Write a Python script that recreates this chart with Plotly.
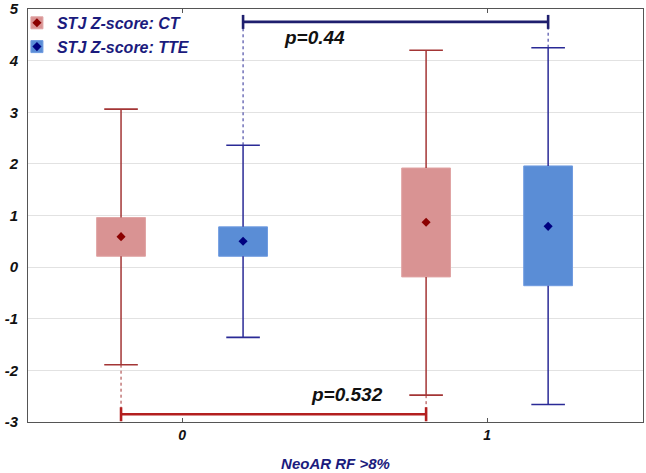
import plotly.graph_objects as go

# ---------------- data ----------------
categories = [0, 1]
tick_labels = ["0", "1"]
y_ticks = [-3, -2, -1, 0, 1, 2, 3, 4, 5]
y_tick_labels = ["-3", "-2", "-1", "0", "1", "2", "3", "4", "5"]
series_names = ["STJ Z-score: CT", "STJ Z-score: TTE"]

ct_q1 = [0.21, -0.19]
ct_q3 = [0.96, 1.92]
ct_mean = [0.59, 0.87]
ct_low = [-1.89, -2.48]
ct_high = [3.06, 4.20]

tte_q1 = [0.21, -0.36]
tte_q3 = [0.78, 1.96]
tte_mean = [0.50, 0.79]
tte_low = [-1.36, -2.66]
tte_high = [2.36, 4.25]

p_labels = ["p=0.532", "p=0.44"]
bracket_levels = [-2.85, 4.75]

# ---------------- style ----------------
FONT = "Liberation Sans, Arial, sans-serif"
NAVY_TXT = "#1b1b7d"
OFFSET = 0.2
BOX_W = 0.16

styles = [
    dict(fill="#d99393", edge="#e0a4a4", line="#a33535", mean="#8b0000", off=-OFFSET),
    dict(fill="#5a8dd6", edge="#6f9be0", line="#2a2a96", mean="#00007f", off=OFFSET),
]
series = [
    dict(q1=ct_q1, q3=ct_q3, mean=ct_mean, low=ct_low, high=ct_high),
    dict(q1=tte_q1, q3=tte_q3, mean=tte_mean, low=tte_low, high=tte_high),
]

fig = go.Figure()

for name, s, st in zip(series_names, series, styles):
    xs = [c + st["off"] for c in categories]
    # boxes
    fig.add_trace(go.Bar(
        x=xs, base=s["q1"], y=[b - a for a, b in zip(s["q1"], s["q3"])],
        width=BOX_W, marker=dict(color=st["fill"], line=dict(color=st["edge"], width=1)),
        name=name, legend="legend", hoverinfo="skip",
    ))
    # whiskers
    wx, wy = [], []
    for x, q1, q3, lo, hi in zip(xs, s["q1"], s["q3"], s["low"], s["high"]):
        wx += [x, x, None, x, x, None]
        wy += [q3, hi, None, q1, lo, None]
    fig.add_trace(go.Scatter(x=wx, y=wy, mode="lines",
                             line=dict(color=st["line"], width=1.5),
                             showlegend=False, hoverinfo="skip"))
    # caps
    fig.add_trace(go.Scatter(x=xs + xs, y=s["high"] + s["low"], mode="markers",
                             marker=dict(symbol="line-ew", size=24,
                                         line=dict(color=st["line"], width=1.6)),
                             showlegend=False, hoverinfo="skip"))

# significance brackets (CT at bottom, TTE at top)
bracket_cols = ["#b31f1f", "#1f1f6e"]
text_pos = [(0.54, -2.46), (0.435, 4.45)]
for i, (s, st) in enumerate(zip(series, styles)):
    xs = [c + st["off"] for c in categories]
    level = bracket_levels[i]
    ends = s["low"] if i == 0 else s["high"]
    # dotted connectors
    fig.add_trace(go.Scatter(
        x=[xs[0], xs[0], None, xs[1], xs[1]],
        y=[ends[0], level, None, ends[1], level],
        mode="lines", line=dict(color=st["line"], width=1, dash="dot"),
        showlegend=False, hoverinfo="skip"))
    fig.add_trace(go.Scatter(
        x=xs, y=[level, level], mode="lines+markers",
        line=dict(color=bracket_cols[i], width=2.6),
        marker=dict(symbol="line-ns", size=10,
                    line=dict(color=bracket_cols[i], width=2.6)),
        showlegend=False, hoverinfo="skip"))
    fig.add_annotation(x=text_pos[i][0], y=text_pos[i][1], text=p_labels[i],
                       showarrow=False, xanchor="center", yanchor="middle",
                       font=dict(family=FONT, size=19, color="#111111",
                                 weight="bold", style="italic"))

# means (drawn last, and used as the diamonds in an overlaid legend)
for name, s, st in zip(series_names, series, styles):
    xs = [c + st["off"] for c in categories]
    fig.add_trace(go.Scatter(x=xs, y=s["mean"], mode="markers",
                             marker=dict(symbol="diamond", size=7, color=st["mean"]),
                             name=name, legend="legend2", hoverinfo="skip"))

legend_common = dict(
    x=-0.018, y=1.0075, xanchor="left", yanchor="top",
    bgcolor="rgba(0,0,0,0)", borderwidth=0, tracegroupgap=0,
)
fig.update_layout(
    width=646, height=473,
    margin=dict(l=28, r=3, t=9, b=51, autoexpand=False),
    paper_bgcolor="white", plot_bgcolor="white",
    barmode="overlay",
    showlegend=True,
    legend=dict(**legend_common,
                font=dict(family=FONT, size=16, color=NAVY_TXT, weight="bold", style="italic")),
    legend2=dict(**legend_common,
                 font=dict(family=FONT, size=16, color="rgba(0,0,0,0)", weight="bold", style="italic")),
    xaxis=dict(
        range=[-0.505, 1.511], tickvals=categories, ticktext=tick_labels,
        showgrid=False, zeroline=False, automargin=False,
        showline=True, linecolor="#555555", linewidth=1, mirror="ticks",
        ticks="inside", ticklen=4, tickcolor="#555555",
        tickfont=dict(family=FONT, size=14, color="#111111", weight="bold", style="italic"),
        title=dict(text="NeoAR RF >8%", standoff=16,
                   font=dict(family=FONT, size=15, color=NAVY_TXT, weight="bold", style="italic")),
    ),
    yaxis=dict(
        range=[-3, 5], tickvals=y_ticks, ticktext=y_tick_labels,
        showgrid=True, gridcolor="#e2e2e2", gridwidth=1, zeroline=False, automargin=False,
        showline=True, linecolor="#555555", linewidth=1, mirror=True,
        ticks="", ticklabelstandoff=6, ticklabeloverflow="allow",
        tickfont=dict(family=FONT, size=15, color="#111111", weight="bold", style="italic"),
    ),
)

fig.write_html(
    "out.html",
    config={"displayModeBar": False},
    post_script="document.body.style.margin='0';document.body.style.overflow='hidden';",
)
